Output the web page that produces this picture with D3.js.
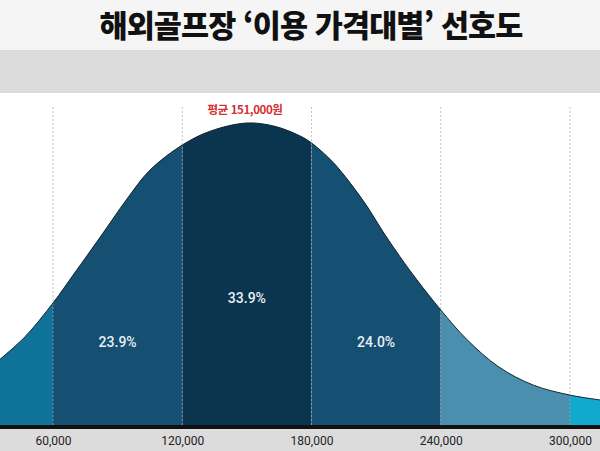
<!DOCTYPE html>
<html lang="ko">
<head>
<meta charset="utf-8">
<title>해외골프장 이용 가격대별 선호도</title>
<script src="https://cdn.jsdelivr.net/npm/d3@7"></script>
<style>
  body { margin: 0; background: #fff; }
  svg { display: block; font-family: "Noto Sans CJK KR", "Noto Sans", Roboto, sans-serif; }
</style>
</head>
<body>
<script>
// price ticks on the axis
var tickValues = [60000, 120000, 180000, 240000, 300000];

// curve: price, relative height (peak = 100)
var curvePrice = [35000, 47000, 60000, 70000, 82000, 94000, 105000, 120000, 133000,
  150000, 163000, 175000, 180000, 190000, 198000, 206000, 213000, 221000, 229000,
  240000, 252000, 267000, 283000, 300000, 314000];
var curveHeight = [21.5, 29.2, 40.4, 50.3, 62.3, 74.5, 84.4, 92.7, 97.3,
  100, 98.9, 95.6, 93.4, 87, 80.1, 72.2, 64.2, 55.8, 48,
  38.1, 28.4, 19.2, 13.2, 9.9, 8.3];

// price bands and their shares
var bandEdges = [30000, 60000, 120000, 180000, 240000, 300000, 320000];
var bandColors = ["#0f7399", "#154f72", "#0b354f", "#154f72", "#4a8fae", "#12a9cf"];
var bandShares = [null, "23.9%", "33.9%", "24.0%", null, null];
var shareY = [null, 27.5, 42, 27.5, null, null];

var meanPrice = 151000;
var meanLabel = "평균 151,000원";
var title = "해외골프장 ‘이용 가격대별’ 선호도";

var w = 600, h = 451;
var base = 425;

var x = d3.scaleLinear().domain([60000, 300000]).range([53, 570]);
var y = d3.scaleLinear().domain([0, 100]).range([base, 123]);

var svg = d3.select("body").append("svg")
  .attr("width", w)
  .attr("height", h);

// header bands
svg.append("rect").attr("x", 0).attr("y", 0).attr("width", w).attr("height", 50).attr("fill", "#f5f5f5");
svg.append("rect").attr("x", 0).attr("y", 50).attr("width", w).attr("height", 43).attr("fill", "#dcdcdc");

svg.append("text")
  .attr("x", 311).attr("y", 37)
  .attr("text-anchor", "middle")
  .style("font-size", "30.5px")
  .style("font-weight", 900)
  .style("letter-spacing", "-0.9px")
  .attr("fill", "#111")
  .text(title);

var pts = curvePrice.map(function(p, i) { return [p, curveHeight[i]]; });

var area = d3.area()
  .x(function(d) { return x(d[0]); })
  .y0(base)
  .y1(function(d) { return y(d[1]); })
  .curve(d3.curveCatmullRom.alpha(0.5));

var line = d3.line()
  .x(function(d) { return x(d[0]); })
  .y(function(d) { return y(d[1]); })
  .curve(d3.curveCatmullRom.alpha(0.5));

svg.append("clipPath").attr("id", "curveClip")
  .append("path").attr("d", area(pts));

// coloured bands under the curve
svg.append("g").attr("clip-path", "url(#curveClip)")
  .selectAll("rect")
  .data(bandColors)
  .enter()
  .append("rect")
  .attr("x", function(d, i) { return x(bandEdges[i]); })
  .attr("width", function(d, i) { return x(bandEdges[i + 1]) - x(bandEdges[i]); })
  .attr("y", 100)
  .attr("height", base - 100)
  .attr("fill", function(d) { return d; });

// dotted guide lines
svg.selectAll("line.guide")
  .data(tickValues)
  .enter()
  .append("line")
  .attr("class", "guide")
  .attr("x1", function(d) { return x(d); })
  .attr("x2", function(d) { return x(d); })
  .attr("y1", 107)
  .attr("y2", base)
  .attr("stroke", "#a8a8a8")
  .attr("stroke-opacity", 0.7)
  .attr("stroke-width", 1)
  .attr("stroke-dasharray", "2,2");

// outline
svg.append("path")
  .attr("d", line(pts))
  .attr("fill", "none")
  .attr("stroke", "#13232e")
  .attr("stroke-width", 1);

// share labels
bandShares.forEach(function(s, k) {
  if (!s) return;
  svg.append("text")
    .attr("x", (x(bandEdges[k]) + x(bandEdges[k + 1])) / 2)
    .attr("y", y(shareY[k]) + 5)
    .attr("text-anchor", "middle")
    .style("font-family", "Roboto, sans-serif")
    .style("font-size", "14px")
    .style("font-weight", 500)
    .attr("fill", "#e9eff3")
    .text(s);
});

// mean label
svg.append("text")
  .attr("x", x(meanPrice) - 4).attr("y", 114)
  .attr("text-anchor", "middle")
  .style("font-size", "11.5px")
  .style("font-weight", 600)
  .style("letter-spacing", "-0.4px")
  .attr("fill", "#d3302f")
  .text(meanLabel);

// axis bar
svg.append("rect").attr("x", 0).attr("y", base).attr("width", w).attr("height", h - base).attr("fill", "#dcdcdc");
svg.append("rect").attr("x", 0).attr("y", base).attr("width", w).attr("height", 4).attr("fill", "#111");

var axis = d3.axisBottom(x)
  .tickValues(tickValues)
  .tickSize(0)
  .tickPadding(0)
  .tickFormat(d3.format(","));

var gx = svg.append("g")
  .attr("transform", "translate(0," + (base + 11) + ")")
  .call(axis);
gx.select(".domain").remove();
gx.selectAll("text")
  .style("font-family", "Roboto, sans-serif")
  .style("font-size", "12px")
  .attr("fill", "#222");
</script>
</body>
</html>
